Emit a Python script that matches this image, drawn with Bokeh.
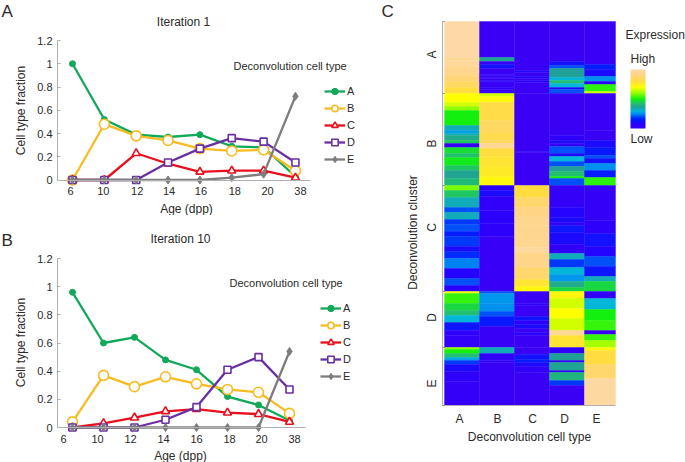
import math
from bokeh.embed import file_html
from bokeh.resources import INLINE
from bokeh.layouts import row, column
from bokeh.models import (Range1d, FixedTicker, Label, Legend, LegendItem,
                          LinearColorMapper, ColorBar, ColumnDataSource)
from bokeh.plotting import figure
from bokeh.transform import transform

# ---------- line chart data ----------
ages = ["6", "10", "12", "14", "16", "18", "20", "38"]
y_ticks = [0, 0.2, 0.4, 0.6, 0.8, 1, 1.2]
y_labels = ["0", "0.2", "0.4", "0.6", "0.8", "1", "1.2"]
cell_types = ["A", "B", "C", "D", "E"]

iter1_A = [1.00, 0.52, 0.39, 0.37, 0.39, 0.29, 0.28, 0.03]
iter1_B = [0.00, 0.48, 0.38, 0.34, 0.27, 0.25, 0.26, 0.08]
iter1_C = [0.00, 0.00, 0.23, 0.14, 0.07, 0.08, 0.08, 0.02]
iter1_D = [0.00, 0.00, 0.00, 0.15, 0.27, 0.36, 0.33, 0.15]
iter1_E = [0.00, 0.00, 0.00, 0.00, 0.00, 0.02, 0.05, 0.72]

iter10_A = [0.96, 0.60, 0.64, 0.48, 0.41, 0.22, 0.16, 0.05]
iter10_B = [0.04, 0.37, 0.29, 0.36, 0.31, 0.27, 0.25, 0.10]
iter10_C = [0.00, 0.03, 0.07, 0.115, 0.13, 0.105, 0.095, 0.04]
iter10_D = [0.00, 0.00, 0.00, 0.055, 0.145, 0.41, 0.50, 0.27]
iter10_E = [0.00, 0.00, 0.00, 0.00, 0.00, 0.00, 0.00, 0.54]

# ---------- heatmap data: (rows, level) runs from top to bottom, per column ----------
heat_A = [(37,1.0),(2,.93),(6,.97),(9,.93),(6,.89),(6,.85),(6,.8),
          (9,.7),(4,.66),(4,.6),(15,.5),(5,.33),(3,.27),(2,.33),(5,.38),(3,.44),(4,.02),(6,.47),(4,.42),(8,.49),(5,.43),(8,.37),(7,.41),
          (5,.58),(7,.43),(10,.33),(5,.2),(7,.33),(5,.18),(7,.2),(5,.15),(10,.18),(5,.1),(7,.17),(10,.24),(10,.08),(7,.2),(6,.07),
          (2,.7),(10,.53),(7,.46),(5,.42),(7,.3),(8,.13),(5,.04),(12,.03),
          (2,.6),(4,.5),(4,.42),(3,.28),(4,.18),(7,.1),(10,.05),(24,.02)]
heat_B = [(36,0),(4,.37),(3,0),(4,.12),(6,0),(1,.08),(2,0),(1,.08),(2,0),(1,.08),(6,0),(2,.06),(4,0),
          (3,.66),(6,.72),(18,.81),(12,.85),(8,.82),(3,.85),(5,.95),(8,.8),(10,.78),(10,.76),(9,.72),
          (5,.06),(6,.1),(14,.04),(13,.06),(13,.05),(55,.01),
          (2,.2),(10,.26),(8,.25),(5,.2),(10,.14),(21,.01),
          (6,.33),(7,.03),(2,.05),(43,.01)]
heat_C = [(49,0),(2,.08),(4,0),(2,.08),(2,0),(2,.07),(11,0),
          (58,0),(1,.07),(33,0),
          (12,.8),(10,.87),(10,.91),(8,.93),(22,.94),(5,.98),(15,.92),(12,.87),(7,.78),(5,.72),
          (12,0),(2,.05),(11,0),(4,.12),(4,.07),(4,.1),(4,0),(3,.06),(12,0),
          (7,0),(5,.12),(3,.15),(4,.1),(6,.04),(33,0)]
heat_D = [(40,0),(4,.12),(3,.2),(9,.36),(3,.3),(3,.42),(4,.3),(2,.1),(4,.2),
          (42,0),(5,.05),(3,.1),(3,.02),(7,.2),(3,.1),(5,.3),(5,.2),(5,.36),(5,.42),(2,.5),(7,.2),
          (22,.02),(10,.08),(5,.1),(3,.04),(7,.13),(12,.1),(9,.04),(6,.33),(8,.18),(7,.3),(7,.26),(6,.38),(4,.46),
          (7,.72),(10,.66),(10,.7),(12,.66),(5,.95),(12,.78),
          (6,.05),(7,.36),(2,.05),(8,.37),(2,.05),(8,.4),(5,.18),(20,0)]
heat_E = [(43,0),(5,.15),(7,.1),(5,.25),(3,.06),(7,.52),(2,.66),
          (37,0),(10,.01),(7,.1),(8,.14),(3,.2),(5,.12),(7,.25),(7,.15),(8,.52),
          (35,.02),(13,.05),(13,.12),(10,.08),(10,.2),(10,.13),(5,.33),(10,.46),
          (7,.03),(11,.3),(11,.5),(10,.53),(4,0),(6,.53),(7,.62),
          (3,.72),(14,.8),(14,.87),(27,.98)]
heat_columns = [heat_A, heat_B, heat_C, heat_D, heat_E]
column_widths = [35, 35, 35, 35, 31]
cluster_sizes = [72, 92, 106, 56, 58]
cluster_centers = [33, 122, 206, 296, 362]

COLORS = dict(A="#12A85A", B="#F7BC22", C="#E8101E", D="#6A2FA0", E="#7D7D7D")
INK = "#2A2A2A"
AXIS = "#B0B0B0"
FONT = "Liberation Sans"


def add_text(p, origin, px, py, text, size, align="left", angle=0.0, baseline="middle"):
    left, bottom = origin
    p.add_layout(Label(x=px - left, y=bottom - py, x_units="screen", y_units="screen",
                       text=text, text_font=FONT, text_font_size=f"{size}px",
                       text_color=INK, text_align=align, text_baseline=baseline,
                       angle=angle))


def line_panel(series, fig_top, fig_h, y0_px, px_per_unit, x0_px, dx_px,
               axis_end_px, label_shifts, legend_xy):
    xr = Range1d((0 - x0_px) / dx_px, (395 - x0_px) / dx_px)
    yr = Range1d((y0_px - (fig_top + fig_h)) / px_per_unit, (y0_px - fig_top) / px_per_unit)
    p = figure(width=395, height=fig_h, x_range=xr, y_range=yr,
               output_backend="svg", toolbar_location=None, min_border=0,
               outline_line_color=None)
    p.grid.visible = False
    xa, ya = p.xaxis[0], p.yaxis[0]
    ticks = [i + s / dx_px for i, s in enumerate(label_shifts)]
    xa.ticker = FixedTicker(ticks=ticks)
    xa.major_label_overrides = dict(zip(ticks, ages))
    xa.fixed_location = 0
    left_bound = (57 - x0_px) / dx_px
    xa.bounds = (left_bound, (axis_end_px - x0_px) / dx_px)
    xa.major_tick_line_color = None
    xa.minor_tick_line_color = None
    xa.axis_line_color = AXIS
    xa.major_label_standoff = 1
    ya.fixed_location = left_bound
    ya.ticker = FixedTicker(ticks=y_ticks)
    ya.major_label_overrides = dict(zip(y_ticks, y_labels))
    ya.bounds = (0, 1.2)
    ya.axis_line_color = AXIS
    ya.major_tick_line_color = AXIS
    ya.major_tick_in = 3
    ya.major_tick_out = 0
    ya.minor_tick_line_color = None
    ya.major_label_standoff = 5
    for ax in (xa, ya):
        ax.major_label_text_font = FONT
        ax.major_label_text_font_size = "11px"
        ax.major_label_text_color = INK

    xs = list(range(len(ages)))
    items = []
    for name, ys in zip(cell_types, series):
        c = COLORS[name]
        ln = p.line(xs, ys, line_color=c, line_width=2.3)
        if name == "A":
            mk = p.scatter(xs, ys, marker="circle", size=6, fill_color=c, line_color=c)
        elif name == "B":
            mk = p.scatter(xs, ys, marker="circle", size=10, fill_color="white", line_color=c, line_width=1.6)
        elif name == "C":
            mk = p.scatter(xs, ys, marker="triangle", size=8, fill_color="white", line_color=c, line_width=1.6)
        elif name == "D":
            mk = p.scatter(xs, ys, marker="square", size=7, fill_color="white", line_color=c, line_width=1.6)
        else:
            mk = p.scatter(xs, ys, marker="diamond", size=8, fill_color=c, line_color=c)
        items.append(LegendItem(label=name, renderers=[ln, mk]))
    lg = Legend(items=items, location=legend_xy, orientation="vertical",
                glyph_width=21, glyph_height=16, spacing=1, label_standoff=2,
                padding=0, margin=0, border_line_color=None, background_fill_alpha=0,
                label_text_font=FONT, label_text_font_size="11px", label_text_color=INK,
                label_height=16)
    p.add_layout(lg)
    return p


# Panel A
pa = line_panel([iter1_A, iter1_B, iter1_C, iter1_D, iter1_E], 0, 215, 179.5,
                139.5 / 1.2, 72, 31.85, 310,
                [-2, -1, 1, 1, 1, 3, 4, 5], (324, 48))
oa = (0, 215)
add_text(pa, oa, 1, 11, "A", 17)
add_text(pa, oa, 381, 11, "C", 17)
add_text(pa, oa, 183, 21, "Iteration 1", 12, "center")
add_text(pa, oa, 233, 65, "Deconvolution cell type", 11, "left")
add_text(pa, oa, 20, 110, "Cell type fraction", 12, "center", math.pi / 2)
add_text(pa, oa, 186, 208, "Age (dpp)", 12, "center")

# Panel B (page y starts at 215)
pb = line_panel([iter10_A, iter10_B, iter10_C, iter10_D, iter10_E], 215, 247, 427,
                169 / 1.2, 72, 31.0, 305,
                [-9, -6, -4, -2, 0, 2, 3, 5], (320, 78))
ob = (0, 462)
add_text(pb, ob, 1, 240, "B", 17)
add_text(pb, ob, 180, 238, "Iteration 10", 12, "center")
add_text(pb, ob, 229, 282, "Deconvolution cell type", 11, "left")
add_text(pb, ob, 20, 342, "Cell type fraction", 12, "center", math.pi / 2)
add_text(pb, ob, 180, 455, "Age (dpp)", 12, "center")

# Panel C
STOPS = [(0, (0x3A, 0x00, 0xF5)), (.07, (0x28, 0x00, 0xFF)), (.16, (0x00, 0x20, 0xFF)),
         (.25, (0x00, 0x90, 0xF0)), (.3, (0x00, 0xB8, 0xD8)), (.36, (0x20, 0xA0, 0x98)),
         (.42, (0x20, 0xC0, 0x70)), (.5, (0x10, 0xF0, 0x10)), (.6, (0x90, 0xFF, 0x00)),
         (.7, (0xFF, 0xFF, 0x00)), (.8, (0xFF, 0xDD, 0x40)), (.9, (0xFF, 0xD4, 0x80)),
         (1, (0xFD, 0xD9, 0xA8))]


def ramp(t):
    for (a, ca), (b, cb) in zip(STOPS, STOPS[1:]):
        if t <= b:
            f = (t - a) / (b - a)
            return "#%02x%02x%02x" % tuple(round(u + f * (v - u)) for u, v in zip(ca, cb))
    return "#fdd9a8"


mapper = LinearColorMapper(palette=[ramp(i / 255) for i in range(256)], low=0, high=1)
total_rows = sum(cluster_sizes)
edges = [0]
for w in column_widths:
    edges.append(edges[-1] + w)

# Page pixels: the figure covers x 395..685 and y 0..462, column 0 starts at x=444, row 0 at y=21.
pc = figure(width=290, height=462, x_range=Range1d(395 - 444, 685 - 444),
            y_range=Range1d(462 - 21, 0 - 21), output_backend="svg", toolbar_location=None,
            min_border=0, outline_line_color=None)
pc.grid.visible = False
left, right, top, bottom, level = [], [], [], [], []
for i, runs in enumerate(heat_columns):
    r = 0
    for n, v in runs:
        left.append(edges[i]); right.append(edges[i + 1])
        top.append(r); bottom.append(r + n); level.append(v)
        r += n
src = ColumnDataSource(dict(left=left, right=right, top=top, bottom=bottom, level=level))
pc.quad(left="left", right="right", top="top", bottom="bottom", source=src,
        fill_color=transform("level", mapper), line_color=transform("level", mapper),
        line_width=0.4)

xa, ya = pc.xaxis[0], pc.yaxis[0]
x_tick_pos = [15, 53, 88, 120, 152]
xa.ticker = FixedTicker(ticks=x_tick_pos)
xa.major_label_overrides = dict(zip(x_tick_pos, cell_types))
xa.fixed_location = total_rows
xa.bounds = (-2, edges[-1])
xa.major_tick_line_color = None
xa.minor_tick_line_color = None
xa.axis_line_color = AXIS
xa.major_label_standoff = 0
boundaries = [sum(cluster_sizes[:i]) for i in range(6)]
ya.ticker = FixedTicker(ticks=cluster_centers, minor_ticks=boundaries)
ya.major_label_overrides = dict(zip(cluster_centers, cell_types))
ya.major_label_orientation = "vertical"
ya.fixed_location = -2
ya.bounds = (0, total_rows)
ya.major_tick_line_color = None
ya.minor_tick_line_color = "#8A8A8A"
ya.minor_tick_in = 2
ya.minor_tick_out = 0
ya.axis_line_color = AXIS
ya.major_label_standoff = -2
for ax in (xa, ya):
    ax.major_label_text_font = FONT
    ax.major_label_text_font_size = "12px"
    ax.major_label_text_color = INK

cb = ColorBar(color_mapper=mapper, location=(235, 334), width=15, height=59, padding=0,
              margin=0, ticker=FixedTicker(ticks=[]), major_tick_line_color=None,
              major_label_text_alpha=0, bar_line_color=None, border_line_color=None,
              background_fill_alpha=0)
pc.add_layout(cb)

oc = (395, 462)
add_text(pc, oc, 529, 436, "Deconvolution cell type", 12, "center")
add_text(pc, oc, 412, 232, "Deconvolution cluster", 12, "center", math.pi / 2)
add_text(pc, oc, 625, 34, "Expression", 12)
add_text(pc, oc, 630, 58, "High", 12)
add_text(pc, oc, 630, 138, "Low", 12)

layout = row(column(pa, pb, spacing=0), pc, spacing=0)
open("out.html", "w").write(file_html(layout, INLINE))
